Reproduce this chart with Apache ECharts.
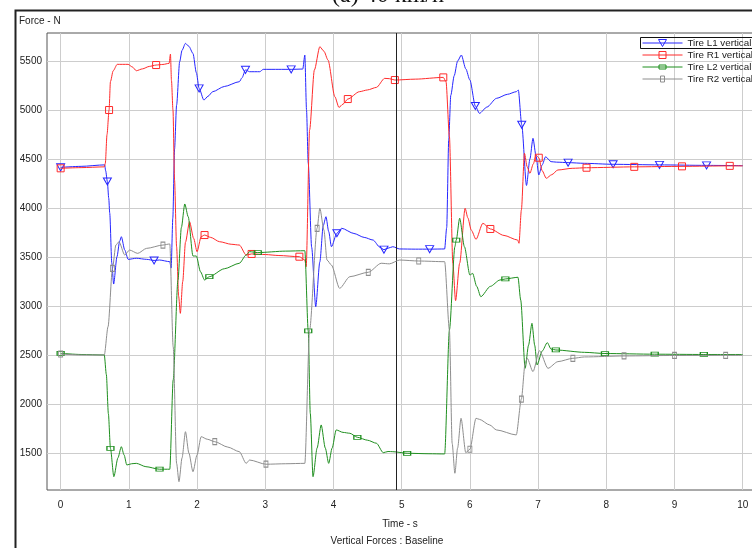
<!DOCTYPE html>
<html>
<head>
<meta charset="utf-8">
<script src="https://cdn.jsdelivr.net/npm/echarts@6/dist/echarts.min.js"></script>
<style>
  html, body { margin: 0; padding: 0; background: #ffffff; }
  #chart { width: 752px; height: 548px; }
</style>
</head>
<body>
<div id="chart"></div>
<script>
// Vertical tire forces over time, [time s, force N]
const seriesNames = ['Tire L1 vertical', 'Tire R1 vertical', 'Tire L2 vertical', 'Tire R2 vertical'];
const xTicks = [0, 1, 2, 3, 4, 5, 6, 7, 8, 9, 10];
const yTicks = [1500, 2000, 2500, 3000, 3500, 4000, 4500, 5000, 5500];
const cursorTime = 4.92;

const tireL1 = [
  [0, 4415], [0.3, 4425], [0.645, 4440], [0.66, 4380], [0.685, 4270], [0.705, 4100], [0.72, 3946],
  [0.75, 3439], [0.777, 3224], [0.826, 3503], [0.865, 3660], [0.89, 3707], [0.94, 3571], [0.99, 3476],
  [1.11, 3487], [1.26, 3476], [1.37, 3465], [1.45, 3469], [1.6, 3452], [1.62, 3387], [1.645, 3900],
  [1.67, 4600], [1.7, 5050], [1.745, 5493], [1.78, 5610], [1.83, 5680], [1.88, 5650], [1.94, 5578],
  [1.99, 5380], [2.03, 5221], [2.1, 5102], [2.16, 5140], [2.23, 5187], [2.4, 5240], [2.62, 5289],
  [2.66, 5330], [2.71, 5410], [2.77, 5391], [2.92, 5391], [2.97, 5415], [3.2, 5415], [3.38, 5415],
  [3.55, 5418], [3.58, 5561], [3.605, 5000], [3.63, 4459], [3.68, 3600], [3.74, 2993], [3.8, 3450],
  [3.85, 3820], [3.89, 3911], [3.93, 3760], [3.97, 3605], [4.05, 3742], [4.12, 3793], [4.3, 3740],
  [4.45, 3700], [4.58, 3673], [4.68, 3600], [4.74, 3575], [4.8, 3590], [4.87, 3605], [4.97, 3582],
  [5.2, 3580], [5.41, 3580], [5.63, 3582], [5.66, 3800], [5.69, 4700], [5.72, 5150], [5.77, 5350],
  [5.82, 5500], [5.875, 5561], [5.94, 5420], [6.0, 5306], [6.08, 5041], [6.14, 4966], [6.25, 5030],
  [6.39, 5119], [6.55, 5160], [6.68, 5187], [6.71, 5204], [6.76, 4850], [6.83, 4230], [6.88, 4500],
  [6.925, 4711], [6.97, 4530], [7.01, 4337], [7.06, 4440], [7.11, 4523], [7.19, 4473], [7.27, 4468],
  [7.44, 4463], [7.68, 4456], [8.1, 4446], [8.78, 4440], [9.47, 4435], [10, 4432]
];
const tireR1 = [
  [0, 4405], [0.3, 4412], [0.64, 4420], [0.655, 4456], [0.68, 4750], [0.71, 5000], [0.73, 5289],
  [0.77, 5400], [0.83, 5466], [0.99, 5466], [1.05, 5440], [1.11, 5401], [1.2, 5420], [1.3, 5445],
  [1.4, 5459], [1.5, 5465], [1.59, 5476], [1.61, 5571], [1.625, 5300], [1.647, 5000], [1.67, 4286],
  [1.7, 3605], [1.73, 3100], [1.755, 2925], [1.79, 3250], [1.83, 3650], [1.89, 3860], [1.95, 3690],
  [2.0, 3554], [2.06, 3707], [2.11, 3724], [2.2, 3700], [2.33, 3656], [2.5, 3630], [2.62, 3622],
  [2.72, 3520], [2.8, 3531], [3.0, 3525], [3.2, 3515], [3.5, 3503], [3.58, 3469], [3.6, 3401],
  [3.65, 4796], [3.72, 5408], [3.8, 5646], [3.86, 5600], [3.92, 5510], [4.02, 5136], [4.08, 5027],
  [4.14, 5060], [4.21, 5112], [4.38, 5187], [4.5, 5205], [4.63, 5231], [4.75, 5323], [4.82, 5320],
  [4.9, 5306], [5.2, 5315], [5.61, 5333], [5.65, 5289], [5.7, 4728], [5.75, 3436], [5.79, 3054],
  [5.85, 3436], [5.93, 3997], [5.97, 3900], [6.02, 3775], [6.09, 3680], [6.19, 3844], [6.3, 3786],
  [6.5, 3720], [6.7, 3673], [6.72, 3640], [6.755, 3980], [6.8, 4558], [6.84, 4420], [6.88, 4354],
  [6.93, 4450], [6.97, 4540], [7.01, 4513], [7.06, 4380], [7.12, 4303], [7.2, 4340], [7.29, 4388],
  [7.5, 4405], [7.71, 4411], [8.41, 4420], [9.11, 4425], [9.81, 4430], [10, 4430]
];
const tireL2 = [
  [0, 2517], [0.3, 2505], [0.64, 2500], [0.67, 2300], [0.7, 1900], [0.73, 1548], [0.78, 1258],
  [0.84, 1450], [0.89, 1564], [0.93, 1480], [0.97, 1377], [1.04, 1390], [1.11, 1394], [1.25, 1360],
  [1.45, 1334], [1.6, 1334], [1.65, 2245], [1.72, 3265], [1.77, 3800], [1.82, 4041], [1.87, 3911],
  [1.94, 3510], [1.99, 3510], [2.05, 3350], [2.11, 3265], [2.18, 3299], [2.4, 3380], [2.62, 3436],
  [2.72, 3520], [2.77, 3554], [2.89, 3545], [3.3, 3560], [3.58, 3564], [3.63, 2745], [3.66, 1905],
  [3.7, 1258], [3.76, 1550], [3.82, 1786], [3.88, 1550], [3.93, 1394], [3.98, 1550], [4.04, 1735],
  [4.14, 1710], [4.24, 1701], [4.35, 1660], [4.5, 1630], [4.63, 1599], [4.73, 1503], [4.8, 1515],
  [4.87, 1513], [5.08, 1497], [5.4, 1492], [5.63, 1490], [5.7, 2755], [5.78, 3605], [5.8, 3673],
  [5.85, 3895], [5.92, 3605], [6.0, 3316], [6.04, 3333], [6.1, 3200], [6.16, 3095], [6.3, 3200],
  [6.44, 3265], [6.52, 3276], [6.705, 3293], [6.745, 3061], [6.81, 2364], [6.86, 2600], [6.91, 2823],
  [6.95, 2600], [6.985, 2398], [7.06, 2540], [7.135, 2626], [7.19, 2560], [7.26, 2551], [7.68, 2527],
  [7.98, 2515], [8.71, 2508], [9.43, 2505], [10, 2505]
];
const tireR2 = [
  [0, 2510], [0.3, 2500], [0.64, 2500], [0.695, 2789], [0.76, 3384], [0.81, 3622], [0.855, 3656],
  [0.94, 3520], [1.01, 3571], [1.13, 3537], [1.26, 3588], [1.5, 3622], [1.6, 3633], [1.65, 2585],
  [1.7, 1394], [1.735, 1207], [1.78, 1450], [1.83, 1717], [1.88, 1500], [1.94, 1309], [2.0, 1480],
  [2.06, 1666], [2.15, 1640], [2.26, 1615], [2.45, 1560], [2.62, 1513], [2.72, 1394], [2.77, 1428],
  [3.01, 1385], [3.3, 1390], [3.58, 1394], [3.65, 2755], [3.76, 3793], [3.8, 3997], [3.86, 3775],
  [3.905, 3469], [3.97, 3418], [4.09, 3180], [4.24, 3299], [4.51, 3344], [4.7, 3436], [4.82, 3430],
  [4.97, 3469], [5.25, 3459], [5.63, 3452], [5.7, 2755], [5.74, 1599], [5.78, 1293], [5.82, 1550],
  [5.87, 1854], [5.94, 1503], [6.0, 1538], [6.09, 1854], [6.14, 1843], [6.29, 1786], [6.39, 1735],
  [6.68, 1684], [6.755, 2050], [6.81, 2415], [6.84, 2466], [6.925, 2330], [7.02, 2544], [7.145, 2364],
  [7.29, 2432], [7.51, 2466], [7.68, 2480], [8.26, 2490], [9.0, 2495], [9.75, 2497], [10, 2497]
];

// Sample times that carry a marker symbol on each curve
const markersL1 = [0, 0.685, 1.37, 2.03, 2.71, 3.38, 4.05, 4.74, 5.41, 6.08, 6.76, 7.44, 8.1, 8.78, 9.47];
const markersR1 = [0, 0.71, 1.4, 2.11, 2.8, 3.5, 4.21, 4.9, 5.61, 6.3, 7.01, 7.71, 8.41, 9.11, 9.81];
const markersL2 = [0, 0.73, 1.45, 2.18, 2.89, 3.63, 4.35, 5.08, 5.8, 6.52, 7.26, 7.98, 8.71, 9.43];
const markersR2 = [0, 0.76, 1.5, 2.26, 3.01, 3.76, 4.51, 5.25, 6.0, 6.755, 7.51, 8.26, 9.0, 9.75];

const FONT = '"Liberation Sans", Arial, sans-serif';
const colors = ['#2626ff', '#ff2b2b', '#1f8f1f', '#8e8e8e'];
const curves = [tireL1, tireR1, tireL2, tireR2];
const markerSets = [markersL1, markersR1, markersL2, markersR2];
const markerSymbols = ['path://M0,0L10,0L5,9Z', 'rect', 'rect', 'rect'];
const markerSizes = [[8, 7], [7, 7], [7, 4], [4, 6]];
const legendIcons = [
  'path://M0,5H40M16,1.5H24L20,8.5Z',
  'path://M0,5H40M16.5,1.5H23.5V8.5H16.5Z',
  'path://M0,5H40M16.5,3H23.5V7H16.5Z',
  'path://M0,5H40M18,2H22V8H18Z'
];

function buildData(points, markers) {
  return points.map(function (p) {
    return markers.indexOf(p[0]) >= 0 ? { value: p } : { value: p, symbol: 'none' };
  });
}

const series = curves.map(function (pts, i) {
  const s = {
    type: 'line',
    name: seriesNames[i],
    data: buildData(pts, markerSets[i]),
    smooth: 0.25,
    smoothMonotone: 'x',
    symbol: markerSymbols[i],
    symbolSize: markerSizes[i],
    showSymbol: true,
    showAllSymbol: true,
    clip: true,
    lineStyle: { color: colors[i], width: 1 },
    itemStyle: { color: 'rgba(255,255,255,0)', borderColor: colors[i], borderWidth: 1 },
    emphasis: { disabled: true },
    animation: false,
    z: 2 + i
  };
  if (i === 0) {
    s.markLine = {
      silent: true,
      symbol: ['none', 'none'],
      label: { show: false },
      lineStyle: { color: '#222222', width: 1, type: 'solid' },
      data: [{ xAxis: cursorTime }],
      animation: false
    };
  }
  return s;
});

const chart = echarts.init(document.getElementById('chart'), null, { renderer: 'canvas' });
chart.setOption({
  backgroundColor: '#ffffff',
  animation: false,
  grid: {
    left: 47, top: 33, width: 723, height: 457,
    show: true, borderColor: '#555555', borderWidth: 1, backgroundColor: 'rgba(0,0,0,0)',
    containLabel: false, outerBoundsMode: 'none'
  },
  xAxis: {
    type: 'value', min: -0.2, max: 10.4,
    axisLine: { show: false },
    axisTick: { show: false, customValues: xTicks },
    axisLabel: { customValues: xTicks, fontSize: 10, color: '#222222', fontFamily: FONT, margin: 10,
      formatter: function (v) { return String(v); } },
    splitLine: { show: true, lineStyle: { color: '#cdcdcd', width: 1 } }
  },
  yAxis: {
    type: 'value', min: 1122, max: 5786,
    axisLine: { show: false },
    axisTick: { show: false, customValues: yTicks },
    axisLabel: { customValues: yTicks, fontSize: 10, color: '#222222', fontFamily: FONT, margin: 5,
      formatter: function (v) { return String(v); } },
    splitLine: { show: true, lineStyle: { color: '#cdcdcd', width: 1 } }
  },
  legend: {
    orient: 'vertical', left: 642, top: 38, padding: 0,
    itemWidth: 40, itemHeight: 10, itemGap: 2,
    selectedMode: false,
    textStyle: { fontSize: 9.8, color: '#222222', fontFamily: FONT },
    data: seriesNames.map(function (n, i) {
      return {
        name: n, icon: legendIcons[i],
        itemStyle: { color: 'rgba(0,0,0,0)', borderColor: colors[i], borderWidth: 1 }
      };
    })
  },
  graphic: [
    { type: 'rect', left: 13, top: 8, shape: { x: 0, y: 0, width: 800, height: 600 },
      style: { fill: 'none', stroke: '#222222', lineWidth: 2 }, silent: true, z: 0 },
    { type: 'text', x: 388, y: 7.5, style: { text: '(a) 40 km/h', font: '24px "Liberation Serif", "Times New Roman", serif',
      fill: '#111111', textAlign: 'center', textVerticalAlign: 'bottom' }, silent: true },
    { type: 'text', x: 19, y: 21, style: { text: 'Force - N', font: '10px ' + FONT, fill: '#222222',
      textAlign: 'left', textVerticalAlign: 'middle' }, silent: true },
    { type: 'text', x: 400, y: 524, style: { text: 'Time - s', font: '10px ' + FONT, fill: '#222222',
      textAlign: 'center', textVerticalAlign: 'middle' }, silent: true },
    { type: 'text', x: 387, y: 541, style: { text: 'Vertical Forces : Baseline', font: '10px ' + FONT, fill: '#222222',
      textAlign: 'center', textVerticalAlign: 'middle' }, silent: true },
    { type: 'rect', shape: { x: 640.5, y: 37.5, width: 130, height: 11 },
      style: { fill: 'none', stroke: '#111111', lineWidth: 1 }, silent: true, z: 10 }
  ],
  series: series
});
</script>
</body>
</html>
